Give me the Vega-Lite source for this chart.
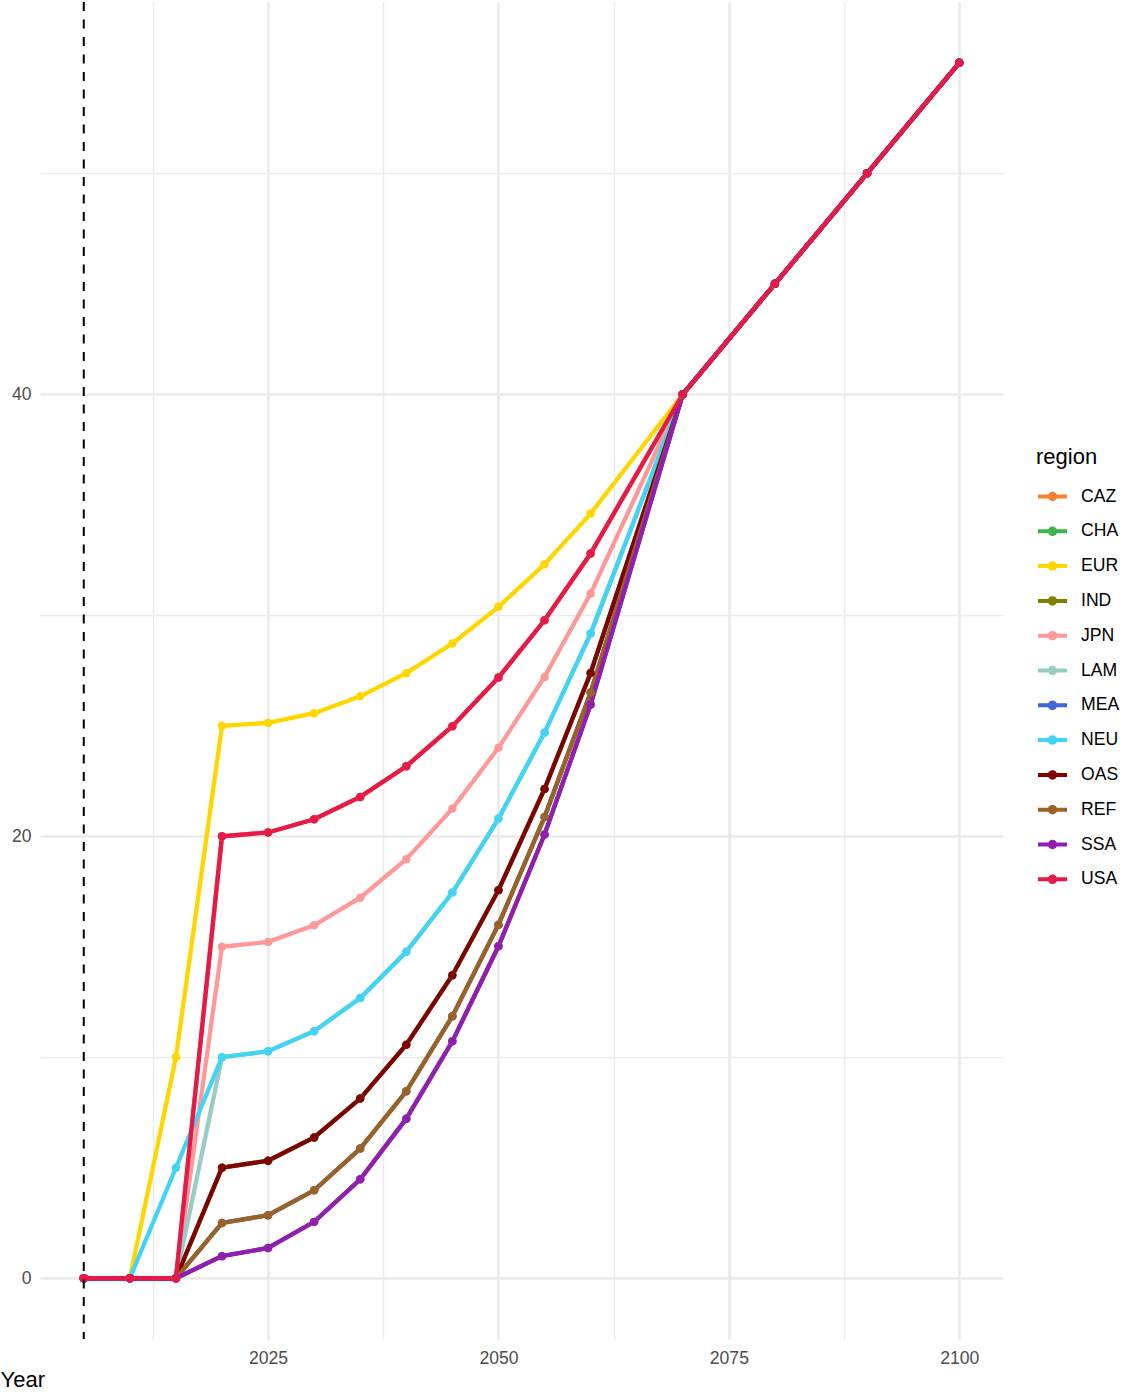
{
  "$schema": "https://vega.github.io/schema/vega-lite/v6.json",
  "width": 963,
  "height": 1337,
  "autosize": {"type": "none"},
  "padding": {"left": 40, "top": 2, "right": 132, "bottom": 57},
  "background": "white",
  "config": {
    "view": {"stroke": null},
    "font": "Liberation Sans"
  },
  "data": {
    "values": [
      {"region":"CAZ","year":2005,"value":0},{"region":"CAZ","year":2010,"value":0},{"region":"CAZ","year":2015,"value":0},{"region":"CAZ","year":2020,"value":20},{"region":"CAZ","year":2025,"value":20.17},{"region":"CAZ","year":2030,"value":20.77},{"region":"CAZ","year":2035,"value":21.78},{"region":"CAZ","year":2040,"value":23.17},{"region":"CAZ","year":2045,"value":24.98},{"region":"CAZ","year":2050,"value":27.18},{"region":"CAZ","year":2055,"value":29.77},{"region":"CAZ","year":2060,"value":32.79},{"region":"CAZ","year":2070,"value":40},{"region":"CAZ","year":2080,"value":45},{"region":"CAZ","year":2090,"value":50},{"region":"CAZ","year":2100,"value":55},
      {"region":"CHA","year":2005,"value":0},{"region":"CHA","year":2010,"value":0},{"region":"CHA","year":2015,"value":0},{"region":"CHA","year":2020,"value":5},{"region":"CHA","year":2025,"value":5.32},{"region":"CHA","year":2030,"value":6.37},{"region":"CHA","year":2035,"value":8.13},{"region":"CHA","year":2040,"value":10.57},{"region":"CHA","year":2045,"value":13.71},{"region":"CHA","year":2050,"value":17.56},{"region":"CHA","year":2055,"value":22.14},{"region":"CHA","year":2060,"value":27.39},{"region":"CHA","year":2070,"value":40},{"region":"CHA","year":2080,"value":45},{"region":"CHA","year":2090,"value":50},{"region":"CHA","year":2100,"value":55},
      {"region":"EUR","year":2005,"value":0},{"region":"EUR","year":2010,"value":0},{"region":"EUR","year":2015,"value":10},{"region":"EUR","year":2020,"value":25},{"region":"EUR","year":2025,"value":25.13},{"region":"EUR","year":2030,"value":25.57},{"region":"EUR","year":2035,"value":26.33},{"region":"EUR","year":2040,"value":27.38},{"region":"EUR","year":2045,"value":28.72},{"region":"EUR","year":2050,"value":30.38},{"region":"EUR","year":2055,"value":32.31},{"region":"EUR","year":2060,"value":34.6},{"region":"EUR","year":2070,"value":40},{"region":"EUR","year":2080,"value":45},{"region":"EUR","year":2090,"value":50},{"region":"EUR","year":2100,"value":55},
      {"region":"IND","year":2005,"value":0},{"region":"IND","year":2010,"value":0},{"region":"IND","year":2015,"value":0},{"region":"IND","year":2020,"value":1},{"region":"IND","year":2025,"value":1.37},{"region":"IND","year":2030,"value":2.55},{"region":"IND","year":2035,"value":4.48},{"region":"IND","year":2040,"value":7.22},{"region":"IND","year":2045,"value":10.72},{"region":"IND","year":2050,"value":15.02},{"region":"IND","year":2055,"value":20.08},{"region":"IND","year":2060,"value":25.96},{"region":"IND","year":2070,"value":40},{"region":"IND","year":2080,"value":45},{"region":"IND","year":2090,"value":50},{"region":"IND","year":2100,"value":55},
      {"region":"JPN","year":2005,"value":0},{"region":"JPN","year":2010,"value":0},{"region":"JPN","year":2015,"value":0},{"region":"JPN","year":2020,"value":15},{"region":"JPN","year":2025,"value":15.22},{"region":"JPN","year":2030,"value":15.97},{"region":"JPN","year":2035,"value":17.22},{"region":"JPN","year":2040,"value":18.96},{"region":"JPN","year":2045,"value":21.25},{"region":"JPN","year":2050,"value":24.0},{"region":"JPN","year":2055,"value":27.21},{"region":"JPN","year":2060,"value":30.98},{"region":"JPN","year":2070,"value":40},{"region":"JPN","year":2080,"value":45},{"region":"JPN","year":2090,"value":50},{"region":"JPN","year":2100,"value":55},
      {"region":"LAM","year":2005,"value":0},{"region":"LAM","year":2010,"value":0},{"region":"LAM","year":2015,"value":0},{"region":"LAM","year":2020,"value":10},{"region":"LAM","year":2025,"value":10.27},{"region":"LAM","year":2030,"value":11.18},{"region":"LAM","year":2035,"value":12.68},{"region":"LAM","year":2040,"value":14.77},{"region":"LAM","year":2045,"value":17.45},{"region":"LAM","year":2050,"value":20.8},{"region":"LAM","year":2055,"value":24.69},{"region":"LAM","year":2060,"value":29.17},{"region":"LAM","year":2070,"value":40},{"region":"LAM","year":2080,"value":45},{"region":"LAM","year":2090,"value":50},{"region":"LAM","year":2100,"value":55},
      {"region":"MEA","year":2005,"value":0},{"region":"MEA","year":2010,"value":0},{"region":"MEA","year":2015,"value":0},{"region":"MEA","year":2020,"value":2.5},{"region":"MEA","year":2025,"value":2.85},{"region":"MEA","year":2030,"value":3.98},{"region":"MEA","year":2035,"value":5.87},{"region":"MEA","year":2040,"value":8.46},{"region":"MEA","year":2045,"value":11.86},{"region":"MEA","year":2050,"value":16.0},{"region":"MEA","year":2055,"value":20.87},{"region":"MEA","year":2060,"value":26.5},{"region":"MEA","year":2070,"value":40},{"region":"MEA","year":2080,"value":45},{"region":"MEA","year":2090,"value":50},{"region":"MEA","year":2100,"value":55},
      {"region":"NEU","year":2005,"value":0},{"region":"NEU","year":2010,"value":0},{"region":"NEU","year":2015,"value":5},{"region":"NEU","year":2020,"value":10},{"region":"NEU","year":2025,"value":10.27},{"region":"NEU","year":2030,"value":11.18},{"region":"NEU","year":2035,"value":12.68},{"region":"NEU","year":2040,"value":14.77},{"region":"NEU","year":2045,"value":17.45},{"region":"NEU","year":2050,"value":20.8},{"region":"NEU","year":2055,"value":24.69},{"region":"NEU","year":2060,"value":29.17},{"region":"NEU","year":2070,"value":40},{"region":"NEU","year":2080,"value":45},{"region":"NEU","year":2090,"value":50},{"region":"NEU","year":2100,"value":55},
      {"region":"OAS","year":2005,"value":0},{"region":"OAS","year":2010,"value":0},{"region":"OAS","year":2015,"value":0},{"region":"OAS","year":2020,"value":5},{"region":"OAS","year":2025,"value":5.32},{"region":"OAS","year":2030,"value":6.37},{"region":"OAS","year":2035,"value":8.13},{"region":"OAS","year":2040,"value":10.57},{"region":"OAS","year":2045,"value":13.71},{"region":"OAS","year":2050,"value":17.56},{"region":"OAS","year":2055,"value":22.14},{"region":"OAS","year":2060,"value":27.39},{"region":"OAS","year":2070,"value":40},{"region":"OAS","year":2080,"value":45},{"region":"OAS","year":2090,"value":50},{"region":"OAS","year":2100,"value":55},
      {"region":"REF","year":2005,"value":0},{"region":"REF","year":2010,"value":0},{"region":"REF","year":2015,"value":0},{"region":"REF","year":2020,"value":2.5},{"region":"REF","year":2025,"value":2.85},{"region":"REF","year":2030,"value":3.98},{"region":"REF","year":2035,"value":5.87},{"region":"REF","year":2040,"value":8.46},{"region":"REF","year":2045,"value":11.86},{"region":"REF","year":2050,"value":16.0},{"region":"REF","year":2055,"value":20.87},{"region":"REF","year":2060,"value":26.5},{"region":"REF","year":2070,"value":40},{"region":"REF","year":2080,"value":45},{"region":"REF","year":2090,"value":50},{"region":"REF","year":2100,"value":55},
      {"region":"SSA","year":2005,"value":0},{"region":"SSA","year":2010,"value":0},{"region":"SSA","year":2015,"value":0},{"region":"SSA","year":2020,"value":1},{"region":"SSA","year":2025,"value":1.37},{"region":"SSA","year":2030,"value":2.55},{"region":"SSA","year":2035,"value":4.48},{"region":"SSA","year":2040,"value":7.22},{"region":"SSA","year":2045,"value":10.72},{"region":"SSA","year":2050,"value":15.02},{"region":"SSA","year":2055,"value":20.08},{"region":"SSA","year":2060,"value":25.96},{"region":"SSA","year":2070,"value":40},{"region":"SSA","year":2080,"value":45},{"region":"SSA","year":2090,"value":50},{"region":"SSA","year":2100,"value":55},
      {"region":"USA","year":2005,"value":0},{"region":"USA","year":2010,"value":0},{"region":"USA","year":2015,"value":0},{"region":"USA","year":2020,"value":20},{"region":"USA","year":2025,"value":20.17},{"region":"USA","year":2030,"value":20.77},{"region":"USA","year":2035,"value":21.78},{"region":"USA","year":2040,"value":23.17},{"region":"USA","year":2045,"value":24.98},{"region":"USA","year":2050,"value":27.18},{"region":"USA","year":2055,"value":29.77},{"region":"USA","year":2060,"value":32.79},{"region":"USA","year":2070,"value":40},{"region":"USA","year":2080,"value":45},{"region":"USA","year":2090,"value":50},{"region":"USA","year":2100,"value":55}
    ]
  },
  "encoding": {
    "x": {
      "field": "year",
      "type": "quantitative",
      "scale": {"domain": [2000.25, 2104.75], "nice": false, "zero": false},
      "axis": {
        "title": "Year",
        "values": [2012.5, 2025, 2037.5, 2050, 2062.5, 2075, 2087.5, 2100],
        "format": "d",
        "labelExpr": "datum.value % 25 === 0 ? datum.label : ''",
        "domain": false,
        "ticks": false,
        "tickSize": 0,
        "labelPadding": 10,
        "labelFontSize": 17.6,
        "labelColor": "#4D4D4D",
        "labelFlush": false,
        "gridColor": "#EBEBEB",
        "gridWidth": {"condition": {"test": "datum.value % 25 !== 0", "value": 1.4}, "value": 2.7},
        "titleFontSize": 22,
        "titleFontWeight": "normal",
        "titleColor": "black",
        "titleX": -40,
        "titleY": 47.7,
        "titleAlign": "left",
        "titleBaseline": "alphabetic"
      }
    },
    "y": {
      "field": "value",
      "type": "quantitative",
      "scale": {"domain": [-2.75, 57.75], "nice": false, "zero": false},
      "axis": {
        "title": null,
        "values": [0, 10, 20, 30, 40, 50],
        "format": "d",
        "labelExpr": "datum.value % 20 === 0 ? datum.label : ''",
        "domain": false,
        "ticks": false,
        "tickSize": 0,
        "labelPadding": 9,
        "labelFontSize": 17.6,
        "labelColor": "#4D4D4D",
        "labelFlush": false,
        "gridColor": "#EBEBEB",
        "gridWidth": {"condition": {"test": "datum.value % 20 !== 0", "value": 1.4}, "value": 2.7}
      }
    }
  },
  "layer": [
    {
      "mark": {"type": "line", "strokeWidth": 4.3, "strokeCap": "butt"},
      "encoding": {
        "color": {
          "field": "region",
          "type": "nominal",
          "scale": {
            "domain": ["CAZ","CHA","EUR","IND","JPN","LAM","MEA","NEU","OAS","REF","SSA","USA"],
            "range": ["#F58231","#3CB44B","#FFD700","#808000","#FF9999","#99CCC4","#4363D8","#42D4F4","#800000","#9A6324","#911EB4","#E6194B"]
          },
          "legend": {
            "title": "region",
            "orient": "none",
            "legendX": 996,
            "legendY": 445,
            "direction": "vertical",
            "padding": 0,
            "titleFontSize": 22,
            "titleFontWeight": "normal",
            "titleColor": "black",
            "titlePadding": 11,
            "labelFontSize": 17.6,
            "labelColor": "black",
            "labelOffset": 12,
            "symbolType": "M-1,0L1,0M-0.19,0A0.19,0.19,0,1,0,0.19,0A0.19,0.19,0,1,0,-0.19,0Z",
            "symbolSize": 841,
            "symbolStrokeWidth": 4,
            "rowPadding": 6.8,
            "encode": {
              "symbols": {
                "update": {
                  "fill": {"scale": "color", "field": "value"},
                  "stroke": {"scale": "color", "field": "value"},
                  "strokeWidth": {"value": 4},
                  "opacity": {"value": 1},
                  "fillOpacity": {"value": 1},
                  "strokeOpacity": {"value": 1}
                }
              }
            }
          }
        }
      }
    },
    {
      "mark": {"type": "point", "filled": true, "size": 72, "opacity": 1, "strokeWidth": 0},
      "encoding": {
        "color": {"field": "region", "type": "nominal"}
      }
    },
    {
      "data": {"values": [{"year": 2005}]},
      "mark": {"type": "rule", "color": "black", "strokeWidth": 2, "strokeDash": [9, 8.5]},
      "encoding": {
        "x": {"field": "year", "type": "quantitative"},
        "y": null
      }
    }
  ]
}
